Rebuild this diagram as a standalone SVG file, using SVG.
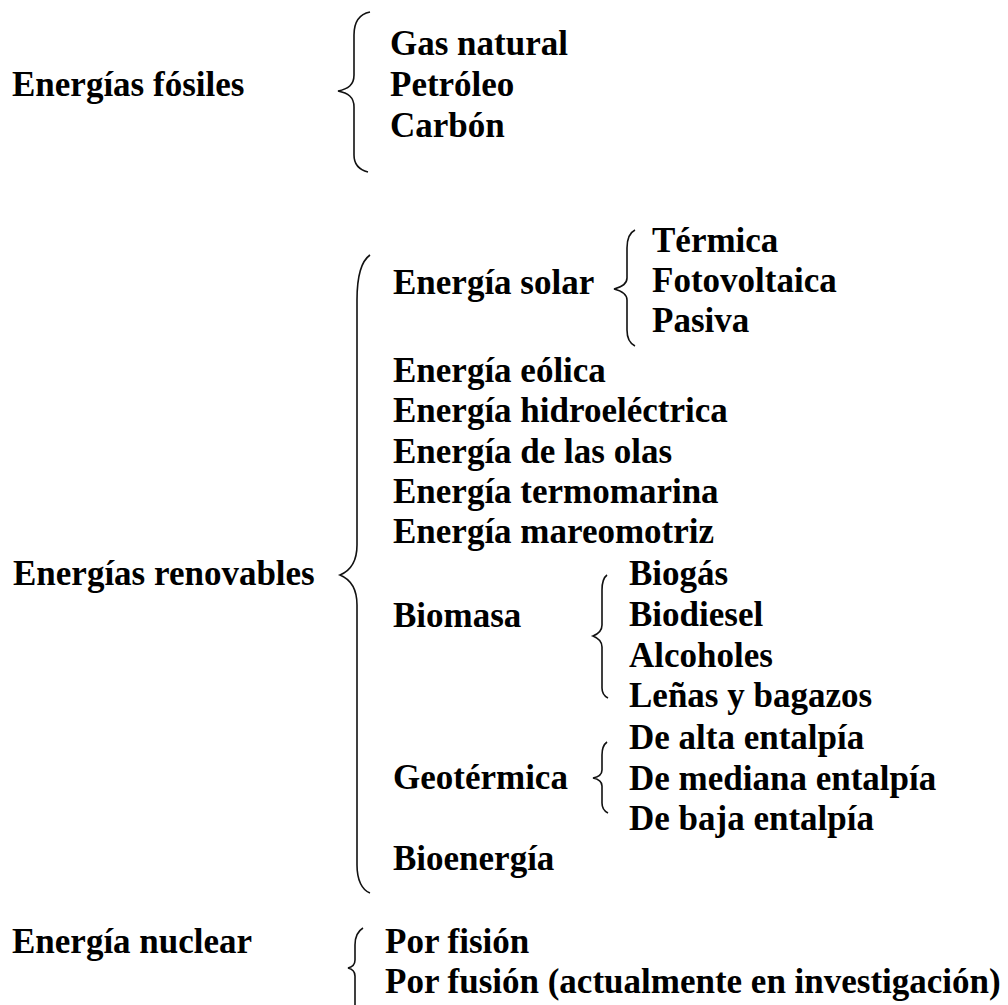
<svg xmlns="http://www.w3.org/2000/svg" width="1008" height="1005" viewBox="0 0 1008 1005">
<style>
text{font-family:"Liberation Serif","Times New Roman",serif;font-weight:bold;font-size:35px;fill:#000}
.brace{fill:none;stroke:#111;stroke-width:1.6}
</style>
<rect width="1008" height="1005" fill="#fff"/>
<g id="connectors">
<path class="brace" d="M370,12 C360,14 354,22 354,35 L354,75 C354,85 348,89 338,91 C348,93 354,97 354,107 L354,155 C354,165 360,170 368,172"/>
<path class="brace" d="M370,255 C360,262 357,280 357,300 L357,545 C357,560 352,570 340,575 C352,580 357,590 357,605 L357,865 C357,880 362,890 370,893"/>
<path class="brace" d="M635,230 C629,233 627,240 627,248 L627,278 C627,284 622,287 614,289 C622,291 627,294 627,300 L627,330 C627,338 629,343 635,346"/>
<path class="brace" d="M607,575 C603,578 602,583 602,590 L602,625 C602,631 598,634 593,636 C598,638 602,641 602,647 L602,688 C602,693 604,696 608,698"/>
<path class="brace" d="M607,742 C603,745 602,749 602,755 L602,770 C602,775 598,777 593,778 C598,779 602,781 602,786 L602,803 C602,808 604,811 608,813"/>
<path class="brace" d="M363,928 C358,931 355,937 355,945 L355,960 C355,965 352,967 348,968 C352,969 355,971 355,976 L355,1005"/>
</g>
<g id="fosiles"><text x="12" y="96">Energías fósiles</text></g>
<g id="gas"><text x="390" y="55">Gas natural</text></g>
<g id="petroleo"><text x="390" y="96">Petróleo</text></g>
<g id="carbon"><text x="390" y="137">Carbón</text></g>
<g id="renovables"><text x="13" y="585">Energías renovables</text></g>
<g id="solar"><text x="393" y="294">Energía solar</text></g>
<g id="termica"><text x="652" y="252">Térmica</text></g>
<g id="fotovoltaica"><text x="652" y="292">Fotovoltaica</text></g>
<g id="pasiva"><text x="652" y="332">Pasiva</text></g>
<g id="eolica"><text x="393" y="382">Energía eólica</text></g>
<g id="hidro"><text x="393" y="422">Energía hidroeléctrica</text></g>
<g id="olas"><text x="393" y="463">Energía de las olas</text></g>
<g id="termomarina"><text x="393" y="503">Energía termomarina</text></g>
<g id="mareomotriz"><text x="393" y="543">Energía mareomotriz</text></g>
<g id="biomasa"><text x="393" y="627">Biomasa</text></g>
<g id="biogas"><text x="629" y="585">Biogás</text></g>
<g id="biodiesel"><text x="629" y="626">Biodiesel</text></g>
<g id="alcoholes"><text x="629" y="667">Alcoholes</text></g>
<g id="lenas"><text x="629" y="707">Leñas y bagazos</text></g>
<g id="geotermica"><text x="393" y="789">Geotérmica</text></g>
<g id="alta"><text x="629" y="749">De alta entalpía</text></g>
<g id="mediana"><text x="629" y="790">De mediana entalpía</text></g>
<g id="baja"><text x="629" y="830">De baja entalpía</text></g>
<g id="bioenergia"><text x="393" y="870">Bioenergía</text></g>
<g id="nuclear"><text x="12" y="953">Energía nuclear</text></g>
<g id="fision"><text x="385" y="953">Por fisión</text></g>
<g id="fusion"><text x="385" y="993">Por fusión (actualmente en investigación)</text></g>
</svg>
